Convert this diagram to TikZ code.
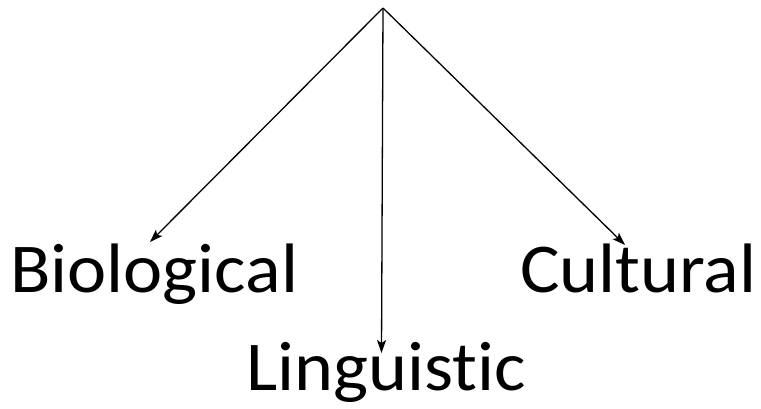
\documentclass[tikz,border=0pt]{standalone}
\usepackage{fontspec}
\setmainfont{Carlito}[Ligatures=NoCommon, FakeStretch=1.06]
\usetikzlibrary{arrows.meta}
\tikzset{
  lbl/.style={inner sep=0pt, anchor=base west, font=\fontsize{70}{84}\selectfont},
  arr/.style={line width=1.3pt, -{Stealth[length=13pt,width=9pt,inset=3pt]}}
}
\begin{document}
\begin{tikzpicture}[x=1pt,y=-1pt]
\useasboundingbox[fill=white] (0,0) rectangle (761,408);
\coordinate (top) at (383,8);
\node[lbl] (bio) at (10,292) {Biological};
\node[lbl] (cul) at (520,292) {Cultural};
\node[lbl] (lin) at (246,390) {Linguistic};
\coordinate (bioend) at (150,242);
\coordinate (linend) at (381.5,353);
\coordinate (culend) at (625,245);
\draw[arr] (top) -- (bioend);
\draw[arr] (top) -- (linend);
\draw[arr] (top) -- (culend);
\end{tikzpicture}
\end{document}
